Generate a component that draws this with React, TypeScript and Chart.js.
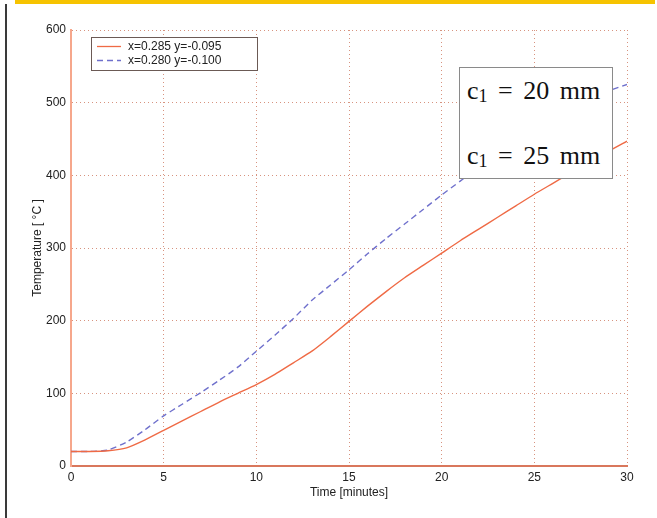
import React, { useEffect, useRef } from "react";
import { Chart, registerables } from "chart.js";

Chart.register(...registerables);

const times = [0, 1, 2, 3, 4, 5, 6, 7, 8, 9, 10, 11, 12, 13, 14, 15, 16, 17, 18, 19, 20, 21, 22, 23, 24, 25, 26, 27, 28, 29, 30];
const tempX285 = [20, 20, 21, 25, 36, 49, 62, 75, 88, 100, 112, 126, 142, 158, 178, 199, 220, 240, 259, 276, 293, 310, 326, 342, 358, 374, 389, 404, 418, 433, 447];
const tempX280 = [20, 20, 22, 33, 50, 69, 85, 101, 118, 136, 158, 180, 203, 228, 249, 270, 292, 313, 333, 353, 373, 392, 411, 429, 446, 462, 477, 491, 504, 516, 525];
const seriesLabels = ["x=0.285 y=-0.095", "x=0.280 y=-0.100"];
const annotationLines = ["20 mm", "25 mm"];

const FONT = "'Liberation Sans', Arial, sans-serif";
const GRID = "rgba(205,120,95,0.8)";

const legendPlugin = {
  id: "boxLegend",
  afterDraw(chart: any) {
    const ctx = chart.ctx;
    const a = chart.chartArea;
    const x0 = a.left + 20;
    const y0 = a.top + 7;
    const w = 166;
    const h = 33;
    ctx.save();
    ctx.fillStyle = "#ffffff";
    ctx.fillRect(x0, y0, w, h);
    ctx.strokeStyle = "#6b5a55";
    ctx.lineWidth = 1;
    ctx.strokeRect(x0 + 0.5, y0 + 0.5, w, h);
    chart.data.datasets.forEach((ds: any, i: number) => {
      const yy = y0 + 9.5 + i * 14;
      ctx.beginPath();
      ctx.strokeStyle = ds.borderColor;
      ctx.lineWidth = 1.3;
      ctx.setLineDash(ds.borderDash || []);
      ctx.moveTo(x0 + 6, yy);
      ctx.lineTo(x0 + 30, yy);
      ctx.stroke();
      ctx.setLineDash([]);
      ctx.fillStyle = "#222";
      ctx.font = "12px " + FONT;
      ctx.textBaseline = "middle";
      ctx.textAlign = "left";
      ctx.fillText(ds.label, x0 + 37, yy + 0.5);
    });
    ctx.restore();
  },
};

export default function App() {
  const ref = useRef<HTMLCanvasElement>(null);

  useEffect(() => {
    document.body.style.margin = "0";
    const chart = new Chart(ref.current!, {
      type: "line",
      data: {
        datasets: [
          {
            label: seriesLabels[0],
            data: times.map((t, i) => ({ x: t, y: tempX285[i] })),
            borderColor: "#ef6a45",
            borderWidth: 1.4,
            pointRadius: 0,
            tension: 0.2,
          },
          {
            label: seriesLabels[1],
            data: times.map((t, i) => ({ x: t, y: tempX280[i] })),
            borderColor: "#6f70cc",
            borderWidth: 1.4,
            borderDash: [6, 4],
            pointRadius: 0,
            tension: 0.2,
          },
        ],
      },
      options: {
        responsive: false,
        animation: false,
        layout: { padding: { left: 0, top: 30, right: 30, bottom: 0 } },
        plugins: { legend: { display: false }, tooltip: { enabled: false } },
        scales: {
          x: {
            type: "linear",
            min: 0,
            max: 30,
            ticks: { stepSize: 5, color: "#222", font: { family: FONT, size: 12 }, padding: 4 },
            grid: { color: GRID, drawTicks: false, lineWidth: 1 },
            border: { display: true, color: "#d9775c", width: 2, dash: [1, 3] },
            title: { display: true, text: "Time [minutes]", color: "#222", font: { family: FONT, size: 12 }, padding: { top: 0, bottom: 18 } },
            afterFit: (s: any) => { s.height = 52; },
          },
          y: {
            min: 0,
            max: 600,
            ticks: { stepSize: 100, color: "#222", font: { family: FONT, size: 12 }, padding: 5 },
            grid: { color: GRID, drawTicks: false, lineWidth: 1 },
            border: { display: true, color: "#f6a78c", width: 2, dash: [1, 3] },
            title: { display: true, text: "Temperature [ °C ]", color: "#222", font: { family: FONT, size: 12 }, padding: { top: 30, bottom: 0 } },
            afterFit: (s: any) => { s.width = 71; },
          },
        },
      },
      plugins: [legendPlugin],
    } as any);
    return () => chart.destroy();
  }, []);

  return (
    <div style={{ position: "absolute", left: 0, top: 0, width: 657, height: 518, background: "#fff", overflow: "hidden" }}>
      <div style={{ position: "absolute", left: 15, top: 0, width: 640, height: 4, background: "#f6c300" }} />
      <div style={{ position: "absolute", left: 5, top: 4, width: 2, height: 514, background: "#3a3a3a" }} />
      <canvas ref={ref} width={657} height={518} style={{ position: "absolute", left: 0, top: 0 }} />
      <div
        style={{
          position: "absolute",
          left: 459,
          top: 67,
          width: 152,
          height: 110,
          background: "#fff",
          border: "1px solid #8a8a8a",
          fontFamily: "'Liberation Serif', 'Times New Roman', serif",
          fontSize: 26,
          wordSpacing: 4,
          color: "#111",
        }}
      >
        {annotationLines.map((t, i) => (
          <div key={i} style={{ position: "absolute", left: 7, top: i === 0 ? 8 : 73, whiteSpace: "nowrap", lineHeight: "30px" }}>
            c<sub style={{ fontSize: 18, verticalAlign: "-3px" }}>1</sub> = {t}
          </div>
        ))}
      </div>
    </div>
  );
}
